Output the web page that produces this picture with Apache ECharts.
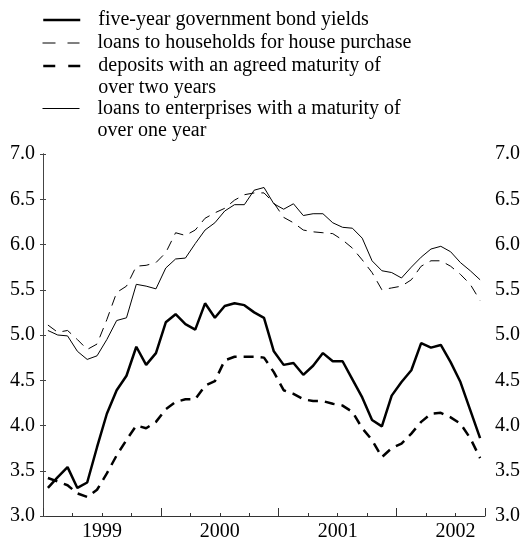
<!DOCTYPE html>
<html><head><meta charset="utf-8">
<script src="https://cdn.jsdelivr.net/npm/echarts@6/dist/echarts.min.js"></script>
<style>html,body{margin:0;padding:0;background:#fff}#c{width:523px;height:543px}</style>
</head><body><div id="c"></div><script>
// Monthly observations, January 1999 to September 2002
const months = [
  '1999-01','1999-02','1999-03','1999-04','1999-05','1999-06','1999-07','1999-08','1999-09','1999-10','1999-11','1999-12',
  '2000-01','2000-02','2000-03','2000-04','2000-05','2000-06','2000-07','2000-08','2000-09','2000-10','2000-11','2000-12',
  '2001-01','2001-02','2001-03','2001-04','2001-05','2001-06','2001-07','2001-08','2001-09','2001-10','2001-11','2001-12',
  '2002-01','2002-02','2002-03','2002-04','2002-05','2002-06','2002-07','2002-08','2002-09'
];
const yearLabels = ['1999','2000','2001','2002'];
const yTicks = [3.0, 3.5, 4.0, 4.5, 5.0, 5.5, 6.0, 6.5, 7.0];

const bondYields = [3.31,3.43,3.54,3.31,3.37,3.76,4.13,4.39,4.55,4.87,4.67,4.80,
  5.14,5.23,5.12,5.06,5.35,5.19,5.32,5.35,5.33,5.25,5.19,4.82,
  4.67,4.69,4.56,4.66,4.80,4.71,4.71,4.51,4.31,4.06,3.99,4.33,
  4.48,4.61,4.91,4.86,4.89,4.70,4.48,4.17,3.86];
const householdLoans = [5.11,5.03,5.05,4.95,4.84,4.90,5.17,5.47,5.54,5.76,5.77,5.80,
  5.91,6.13,6.10,6.16,6.29,6.35,6.40,6.49,6.55,6.57,6.57,6.46,
  6.30,6.24,6.16,6.14,6.13,6.12,6.05,5.96,5.83,5.69,5.50,5.52,
  5.54,5.61,5.76,5.82,5.82,5.76,5.67,5.56,5.38];
const deposits = [3.42,3.38,3.34,3.25,3.21,3.29,3.47,3.67,3.84,4.00,3.97,4.04,
  4.18,4.26,4.29,4.29,4.44,4.49,4.72,4.76,4.76,4.76,4.75,4.59,
  4.39,4.35,4.29,4.27,4.27,4.24,4.22,4.15,3.97,3.84,3.65,3.75,
  3.80,3.91,4.04,4.13,4.14,4.09,4.02,3.86,3.64];
const enterpriseLoans = [5.05,5.00,4.99,4.82,4.73,4.77,4.95,5.16,5.19,5.56,5.54,5.51,
  5.74,5.84,5.85,6.01,6.16,6.24,6.37,6.44,6.44,6.60,6.63,6.45,
  6.39,6.45,6.32,6.34,6.34,6.24,6.19,6.18,6.07,5.82,5.71,5.69,
  5.63,5.75,5.86,5.95,5.98,5.92,5.80,5.71,5.61];

const names = [
  'five-year government bond yields',
  'loans to households for house purchase',
  'deposits with an agreed maturity of\nover two years',
  'loans to enterprises with a maturity of\nover one year'
];

// x = months elapsed since 1 Jan 1999, observation placed at mid-month
const toXY = arr => arr.map((v, i) => [i + 0.5, v]);

const FONT = 'Liberation Serif';
const chart = echarts.init(document.getElementById('c'), null, {renderer: 'canvas'});

function lineSeries(name, data, width, dash) {
  return {
    name: name, type: 'line', data: toXY(data), symbol: 'none', showSymbol: false,
    xAxisIndex: 0, yAxisIndex: 0, animation: false, smooth: false,
    lineStyle: {color: '#000', width: width, type: dash || 'solid'},
    itemStyle: {color: '#000'},
    emphasis: {disabled: true}
  };
}

// Two-line legend entries get an empty leading line so the icon sits level with the first line.
function legendFor(name, top, twoLine, width, dash) {
  return {
    show: true, data: [name], orient: 'vertical', left: 42, top: top, padding: 0,
    itemWidth: 37, itemHeight: 14, selectedMode: false,
    itemStyle: {opacity: 0, borderWidth: 0, color: 'rgba(0,0,0,0)'},
    lineStyle: {width: width, type: dash || 'solid', color: '#000'},
    formatter: n => twoLine ? ' \n' + n : n,
    textStyle: {fontFamily: FONT, fontSize: 20, color: '#000', lineHeight: 22, padding: [0, 0, 0, 13]}
  };
}

const option = {
  backgroundColor: '#fff',
  animation: false,
  legend: [
    legendFor(names[0], 9, false, 2.5),
    legendFor(names[1], 32, false, 1, [13, 12]),
    legendFor(names[2], 33, true, 2.5, [12, 13]),
    legendFor(names[3], 75.5, true, 1)
  ],
  grid: {left: 43, right: 38, top: 154, bottom: 27, containLabel: false},
  xAxis: [
    {
      type: 'value', min: 0, max: months.length, interval: 3, position: 'bottom',
      axisLine: {show: true, lineStyle: {color: '#333', width: 1}},
      axisTick: {show: true, inside: true, length: 3, lineStyle: {color: '#333'}},
      splitLine: {show: false},
      axisLabel: {
        show: true, margin: 6, fontFamily: FONT, fontSize: 20, color: '#000',
        showMinLabel: true, showMaxLabel: true, hideOverlap: false,
        formatter: v => (v % 12 === 6) ? yearLabels[(v - 6) / 12] : ''
      }
    },
    {
      type: 'value', min: 0, max: months.length, interval: 12, position: 'bottom',
      axisLine: {show: false},
      axisTick: {show: true, inside: true, length: 8, lineStyle: {color: '#333'}},
      axisLabel: {show: false}, splitLine: {show: false}
    }
  ],
  yAxis: [
    {
      type: 'value', min: yTicks[0], max: yTicks[yTicks.length - 1], interval: 0.5, position: 'left',
      axisLine: {show: true, lineStyle: {color: '#444', width: 1}},
      axisTick: {show: true, inside: true, length: 3, lineStyle: {color: '#444'}},
      splitLine: {show: false},
      axisLabel: {margin: 8, fontFamily: FONT, fontSize: 20, color: '#000', formatter: v => v.toFixed(1)}
    },
    {
      type: 'value', min: yTicks[0], max: yTicks[yTicks.length - 1], interval: 0.5, position: 'right',
      axisLine: {show: true, lineStyle: {color: '#444', width: 1}},
      axisTick: {show: true, inside: true, length: 3, lineStyle: {color: '#444'}},
      splitLine: {show: false},
      axisLabel: {margin: 10, fontFamily: FONT, fontSize: 20, color: '#000', formatter: v => v.toFixed(1)}
    }
  ],
  series: [
    lineSeries(names[0], bondYields, 2.5),
    lineSeries(names[1], householdLoans, 1, [10, 7]),
    lineSeries(names[2], deposits, 2.5, [10, 7]),
    lineSeries(names[3], enterpriseLoans, 1)
  ]
};
chart.setOption(option);
</script></body></html>
